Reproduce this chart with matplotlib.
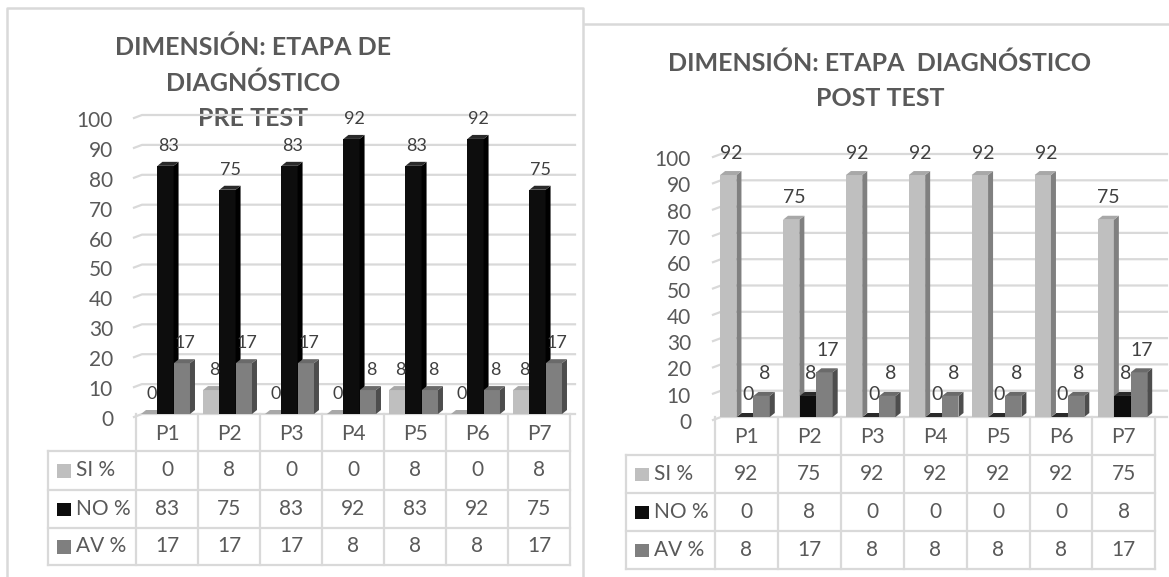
import matplotlib.pyplot as plt
from matplotlib.patches import Polygon, Rectangle
from matplotlib.transforms import ScaledTranslation

plt.rcParams['font.family'] = ['Lato', 'DejaVu Sans']

categories = ['P1', 'P2', 'P3', 'P4', 'P5', 'P6', 'P7']
series_names = ['SI %', 'NO %', 'AV %']

pre_si = [0, 8, 0, 0, 8, 0, 8]
pre_no = [83, 75, 83, 92, 83, 92, 75]
pre_av = [17, 17, 17, 8, 8, 8, 17]

post_si = [92, 75, 92, 92, 92, 92, 75]
post_no = [0, 8, 0, 0, 0, 0, 8]
post_av = [8, 17, 8, 8, 8, 8, 17]

yticks = list(range(0, 101, 10))
title_pre = ['DIMENSIÓN: ETAPA DE', 'DIAGNÓSTICO', 'PRE TEST']
title_post = ['DIMENSIÓN: ETAPA  DIAGNÓSTICO', 'POST TEST']

front = ['#BFBFBF', '#0D0D0D', '#7F7F7F']
side = ['#808080', '#000000', '#4D4D4D']
topc = ['#A8A8A8', '#2A2A2A', '#6A6A6A']
grid_col = '#D9D9D9'
text_col = '#595959'
lab_col = '#404040'

W, H = 1169, 577
fig = plt.figure(figsize=(W / 100, H / 100), dpi=100)
page = fig.add_axes([0, 0, 1, 1])
page.set_xlim(0, W)
page.set_ylim(H, 0)
page.axis('off')


def draw_chart(series, title, title_x, title_y, col_left, col_w, floor_y, top_y,
               head_left, rows_y, grid_right, tick_right, lab_size, lab_dy):
    n = len(categories)
    ax = fig.add_axes([col_left / W, 1 - floor_y / H, n * col_w / W, (floor_y - top_y) / H])
    ax.set_xlim(-0.5, n - 0.5)
    ax.set_ylim(0, 100)
    ax.patch.set_visible(False)
    for sp in ax.spines.values():
        sp.set_visible(False)
    ax.set_xticks([])
    ax.set_yticks(yticks)
    ax.tick_params(axis='y', length=0, pad=(col_left - tick_right) / 1.389,
                   labelsize=15, labelcolor=text_col)
    for lb in ax.get_yticklabels():
        lb.set_transform(lb.get_transform() + ScaledTranslation(0, -4 / 100, fig.dpi_scale_trans))

    ux = col_w
    uy = (floor_y - top_y) / 100
    dx, dy = 5 / ux, 4 / uy

    # back-wall gridlines with the little floor-depth stub
    x0 = -0.5 - 2 / ux
    xr = -0.5 + (grid_right - col_left) / ux
    for t in yticks:
        ax.plot([x0, x0 + 8 / ux, xr], [t - 3 / uy, t, t], color=grid_col, lw=1.6,
                clip_on=False, zorder=0)

    w, off = 0.26, 0.265
    for s, vals in enumerate(series):
        xs = [i + (s - 1) * off - 1.5 / ux for i in range(n)]
        ax.bar(xs, vals, width=w, color=front[s], zorder=2 + s)
        for xc, v in zip(xs, vals):
            xl, xrr = xc - w / 2, xc + w / 2
            ax.add_patch(Polygon([(xrr, 0), (xrr + dx, dy), (xrr + dx, v + dy), (xrr, v)],
                                 closed=True, fc=side[s], ec='none', zorder=2 + s))
            ax.add_patch(Polygon([(xl, v), (xl + dx, v + dy), (xrr + dx, v + dy), (xrr, v)],
                                 closed=True, fc=topc[s], ec='none', zorder=2 + s))
            ax.annotate(str(v), (xc, v), xytext=(3, lab_dy), textcoords='offset pixels',
                        ha='center', va='center', fontsize=lab_size, color=lab_col,
                        zorder=10, annotation_clip=False)

    # title
    for k, line in enumerate(title):
        page.text(title_x, title_y + 36 * k, line, ha='center', va='center',
                  fontsize=18, fontweight='bold', color=text_col)

    # data table
    x_edges = [col_left + k * col_w for k in range(n + 1)]
    for xe in x_edges:
        page.plot([xe, xe], [floor_y, rows_y[-1]], color=grid_col, lw=1.6)
    page.plot([head_left, head_left], [rows_y[0], rows_y[-1]], color=grid_col, lw=1.6)
    for ye in rows_y:
        page.plot([head_left, x_edges[-1]], [ye, ye], color=grid_col, lw=1.6)
    yc0 = (floor_y + rows_y[0]) / 2 + 1
    for k, c in enumerate(categories):
        page.text(col_left + (k + 0.5) * col_w, yc0, c, ha='center', va='center',
                  fontsize=15, color=text_col)
    for r, (name, vals) in enumerate(zip(series_names, series)):
        yc = (rows_y[r] + rows_y[r + 1]) / 2
        page.add_patch(Rectangle((head_left + 9, yc - 6.5), 13.5, 13.5, fc=front[r], ec='none'))
        page.text(head_left + 28, yc, name, ha='left', va='center', fontsize=15, color=text_col)
        for k, v in enumerate(vals):
            page.text(col_left + (k + 0.5) * col_w, yc, str(v), ha='center', va='center',
                      fontsize=15, color=text_col)


# panel borders
page.plot([7, 7, 583, 583], [H + 5, 8, 8, H + 5], color=grid_col, lw=1.8)
page.plot([585, W], [24, 24], color=grid_col, lw=1.8)

draw_chart([pre_si, pre_no, pre_av], title_pre, 253, 47,
           col_left=136, col_w=62, floor_y=414, top_y=115,
           head_left=48, rows_y=[451, 490, 528, 565], grid_right=575,
           tick_right=113, lab_size=13, lab_dy=20)

draw_chart([post_si, post_no, post_av], title_post, 880, 63,
           col_left=715, col_w=62.9, floor_y=417, top_y=154,
           head_left=626, rows_y=[455, 493, 531, 569], grid_right=1167,
           tick_right=691, lab_size=14, lab_dy=22)

fig.savefig('out.png', dpi=100)
